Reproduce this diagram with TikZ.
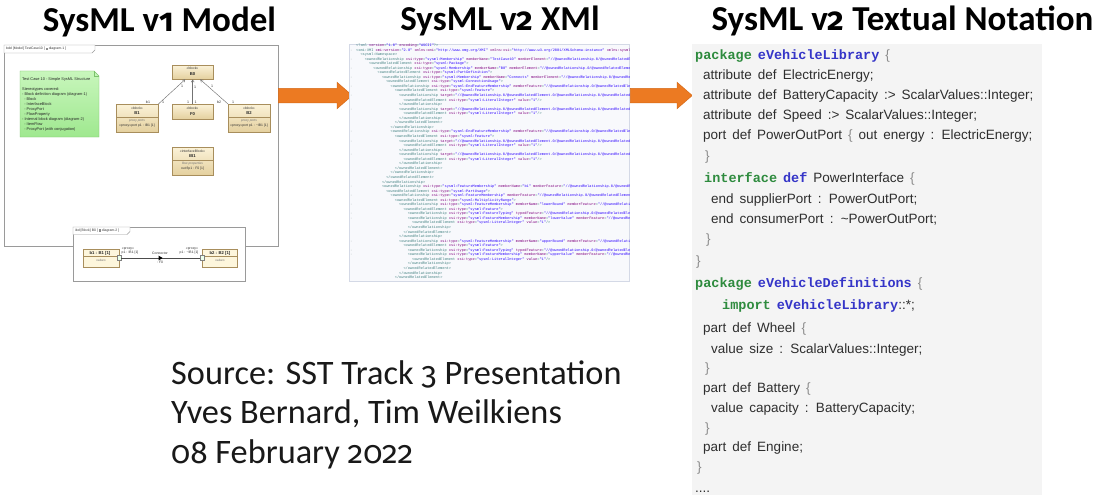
\documentclass[tikz,border=0pt]{standalone}
\usepackage{fontspec}
\setmainfont{Liberation Sans}
\newfontfamily\headfont{Carlito}
\newfontfamily\osfig[Numbers=OldStyle,Scale=0.92]{Fira Sans}
\newfontfamily\codefont[WordSpace=1.6]{Liberation Sans}
\newfontfamily\monofont{Liberation Mono}
\usetikzlibrary{shapes.arrows,shapes.geometric,shadows,arrows.meta}

\definecolor{flow}{HTML}{EC7A22}
\definecolor{flowedge}{HTML}{D66A18}
\definecolor{kwgreen}{HTML}{2E8B3E}
\definecolor{kwblue}{HTML}{3535C8}
\definecolor{codetext}{HTML}{2E2E2E}
\definecolor{codebrace}{HTML}{8C8C8C}
\definecolor{codebg}{HTML}{F4F4F4}
\definecolor{xmlbg}{HTML}{F8F9FC}
\definecolor{xmledge}{HTML}{D4D9E6}
\definecolor{xtag}{HTML}{3F7F7F}
\definecolor{xattr}{HTML}{7F007F}
\definecolor{xval}{HTML}{2A00FF}
\definecolor{xgutter}{HTML}{9AA4A4}
\definecolor{notetop}{HTML}{C8F6BC}
\definecolor{notebot}{HTML}{9FE88F}
\definecolor{noteedge}{HTML}{7CC26C}
\definecolor{blocktop}{HTML}{FBF2D8}
\definecolor{blockbot}{HTML}{E4D09E}
\definecolor{blockedge}{HTML}{A88E5C}
\definecolor{partfill}{HTML}{FDF6DC}
\definecolor{frameedge}{HTML}{9A9A9A}

% keyword, brace and XML helpers
\newcommand\kw[2]{{\monofont\bfseries\color{#1}#2}}
\newcommand\brc[1]{\textcolor{codebrace}{#1}}
\newcommand\icon{\textcolor{black!45}{\rule{2.2pt}{2.2pt}}}
\newcommand\xa[2]{\textcolor{xattr}{#1}=\textcolor{xval}{"#2"}}
\newcommand\xp{//@ownedRelationship.0/@ownedRelatedElement.0/@ownedRelationship.0/@ownedRelatedElement.0/@ownedRelationship.1/@ownedRelatedElement.0/@ownedRelationship.2}
\newcommand\xline[3]{\node[xmlline] (xl#1) at ({356+4.3*#2},{46.5+4.55*(#1-1)}) {#3};}
\newcommand\xmark[1]{\node[xmlmark] (xm#1) at (351.5,{46.5+4.55*(#1-1)}) {-};}

\begin{document}
\begin{tikzpicture}[x=1pt,y=-1pt,
  title/.style={anchor=base, inner sep=0, font=\headfont\bfseries\fontsize{35}{35}\selectfont},
  source/.style={anchor=base west, inner sep=0, text=black!90, font=\headfont\fontsize{34.3}{40}\selectfont},
  code/.style={anchor=base west, inner sep=0, text=codetext, font=\codefont\fontsize{13.5}{16}\selectfont},
  xmlline/.style={anchor=base west, inner sep=0, text=xtag, font=\monofont\fontsize{3.6}{4}\selectfont},
  xmlmark/.style={anchor=base, inner sep=0, text=xgutter, font=\monofont\fontsize{3.6}{4}\selectfont},
  bigarrow/.style={single arrow, fill=flow, draw=flowedge, line width=0.5pt, inner sep=0,
    single arrow head extend=6, single arrow tip angle=82, anchor=west},
  tiny/.style={inner sep=0, font=\fontsize{3.4}{4}\selectfont, text=black!80},
  tinybf/.style={inner sep=0, font=\bfseries\fontsize{4.2}{5}\selectfont, text=black!85},
  tinyit/.style={inner sep=0, font=\itshape\fontsize{3.2}{4}\selectfont, text=black!55},
  blk/.style={draw=blockedge, top color=blocktop, bottom color=blockbot, line width=0.4pt,
    inner sep=0, drop shadow={shadow xshift=0.8pt, shadow yshift=-0.8pt, opacity=0.25}},
  part/.style={draw=blockedge, fill=partfill, line width=0.4pt, inner sep=0,
    drop shadow={shadow xshift=0.8pt, shadow yshift=-0.8pt, opacity=0.2}},
  frame/.style={draw=frameedge, line width=0.4pt, inner sep=0},
  assoc/.style={draw=black!55, line width=0.45pt, -{Straight Barb[length=2.4pt,width=3pt]}},
  mult/.style={inner sep=0, font=\fontsize{3.6}{4}\selectfont, text=black!80}
]
\useasboundingbox[fill=white] (0,0) rectangle (1103,495);

% ---------- headings ----------
\node[title] (t1) at (159.5,32) {SysML v{\osfig 1} Model};
\node[title] (t2) at (500,31) {SysML v{\osfig 2} XMl};
\node[title] (t3) at (902.5,31) {SysML v{\osfig 2} Textual Notation};

% ---------- block definition diagram ----------
\node[frame, minimum width=274, minimum height=201, anchor=north west] (bddframe) at (4,45) {};
\draw[frame, fill=white] (4,45) -- (95,45) -- (95,50) -- (92,53) -- (4,53) -- cycle;
\node[tiny, anchor=west] (bddtab) at (6,49) {bdd [Model] TestCase10 [ \icon\ diagram-1 ]};

% comment note
\draw[draw=noteedge, top color=notetop, bottom color=notebot, line width=0.4pt]
  (20,71) -- (94,71) -- (99,76) -- (99,137) -- (20,137) -- cycle;
\draw[noteedge, line width=0.4pt] (94,71) -- (94,76) -- (99,76);
\node[anchor=north west, inner sep=0, align=left, text=black!85,
  font=\fontsize{3.9}{5}\selectfont] (notetxt) at (22,77.5)
  {Test Case 10 - Simple SysML Structure\\[5pt]
   Stereotypes covered:\\
   - Block definition diagram (diagram-1)\\
   \ \ - Block\\
   \ \ - InterfaceBlock\\
   \ \ - ProxyPort\\
   \ \ - FlowProperty\\
   - Internal block diagram (diagram-2)\\
   \ \ - ItemFlow\\
   \ \ - ProxyPort (with conjugation)};

% blocks
\node[blk, minimum width=41, minimum height=14, anchor=north west] (B0) at (172,65) {};
\node[tiny] (B0s) at (192.5,68.5) {«block»};
\node[tinybf] (B0n) at (192.5,74) {B0};

\node[blk, minimum width=42, minimum height=28, anchor=north west] (B1) at (116,104) {};
\node[tiny] (B1s) at (137,108) {«block»};
\node[tinybf] (B1n) at (137,113.5) {B1};
\draw[blockedge, line width=0.3pt] (B1.west |- 0,117.5) -- (B1.east |- 0,117.5);
\node[tinyit] (B1c) at (137,121) {proxy ports};
\node[tiny] (B1p) at (137,125.5) {«proxy»port p1 : IB1 [1]};

\node[blk, minimum width=41, minimum height=15, anchor=north west] (F0) at (172,104) {};
\node[tiny] (F0s) at (192.5,108) {«block»};
\node[tinybf] (F0n) at (192.5,114) {F0};

\node[blk, minimum width=42, minimum height=28, anchor=north west] (B2) at (228,104) {};
\node[tiny] (B2s) at (249,108) {«block»};
\node[tinybf] (B2n) at (249,113.5) {B2};
\draw[blockedge, line width=0.3pt] (B2.west |- 0,117.5) -- (B2.east |- 0,117.5);
\node[tinyit] (B2c) at (249,121) {proxy ports};
\node[tiny] (B2p) at (249,125.5) {«proxy»port p1 : \textasciitilde IB1 [1]};

\node[blk, minimum width=41, minimum height=28, anchor=north west] (IB) at (172,147) {};
\node[tiny] (IBs) at (192.5,151) {«interfaceBlock»};
\node[tinybf] (IBn) at (192.5,156.5) {IB1};
\draw[blockedge, line width=0.3pt] (IB.west |- 0,160.5) -- (IB.east |- 0,160.5);
\node[tinyit] (IBc) at (192.5,164) {flow properties};
\node[tiny] (IBp) at (192.5,168.5) {out flp1 : F0 [1]};

% part associations
\draw[assoc] (B1.north east) -- ([xshift=-7.5]B0.south);
\draw[assoc] (F0.north) -- (B0.south);
\draw[assoc] (B2.north west) -- ([xshift=7.5]B0.south);
\node[mult] (m1) at (148,102) {b1};
\node[mult] (m2) at (163,102) {1};
\node[mult] (m3) at (182,86) {1};
\node[mult] (m4) at (195,87) {1};
\node[mult] (m5) at (188,102) {1};
\node[mult] (m6) at (195.5,102) {1};
\node[mult] (m7) at (219,102) {b2};
\node[mult] (m8) at (233,102) {1};
\node[mult] (m9) at (212,86) {1};

% ---------- internal block diagram ----------
\node[frame, fill=white, minimum width=172, minimum height=54, anchor=north west] (ibdframe) at (73,227) {};
\draw[frame, fill=white] (73,227) -- (130,227) -- (130,231.5) -- (127,234.5) -- (73,234.5) -- cycle;
\node[tiny, anchor=west] (ibdtab) at (75,230.8) {ibd [Block] B0 [ \icon\ diagram-2 ]};

\node[part, minimum width=36, minimum height=18, anchor=north west] (b1p) at (83,249) {};
\node[tinybf] (b1n) at (100,253) {b1 : B1 [1]};
\draw[blockedge, line width=0.3pt] (b1p.west |- 0,256.5) -- (b1p.east |- 0,256.5);
\node[tinyit] (b1v) at (101,260) {values};
\node[part, minimum width=35, minimum height=18, anchor=north west] (b2p) at (202,249) {};
\node[tinybf] (b2n) at (220,253) {b2 : B2 [1]};
\draw[blockedge, line width=0.3pt] (b2p.west |- 0,256.5) -- (b2p.east |- 0,256.5);
\node[tinyit] (b2v) at (220,260) {values};

\node[draw=black!50, fill=green!8, line width=0.3pt, minimum width=4, minimum height=5, inner sep=0] (p1) at (119,258) {};
\node[draw=black!50, fill=green!8, line width=0.3pt, minimum width=4, minimum height=5, inner sep=0] (p2) at (202,258) {};
\draw[black!70, line width=0.45pt] (p1.east) -- (p2.west);
\node[isosceles triangle, fill=black, inner sep=0, minimum width=4, minimum height=4,
  isosceles triangle apex angle=60] (flowtip) at (160,258) {};
\node[tiny] (conn) at (160,253.5) {Connector};
\node[tiny] (connt) at (160,262.5) {: F0};
\node[tiny] (pl1a) at (128,248.5) {«proxy»};
\node[tiny] (pl1b) at (130,252.5) {p1 : IB1 [1]};
\node[tiny] (pl2a) at (192,248.5) {«proxy»};
\node[tiny] (pl2b) at (189,252.5) {p1 : \textasciitilde IB1 [1]};

% ---------- flow arrows ----------
\node[bigarrow, minimum height=74] (arrA) at (278,95.5) {\rule{0pt}{14pt}};
\node[bigarrow, minimum height=62] (arrB) at (630,95.5) {\rule{0pt}{14pt}};

% ---------- XML listing ----------
\node[draw=xmledge, fill=xmlbg, line width=0.4pt, inner sep=0, minimum width=280,
  minimum height=237, anchor=north west] (xmlpanel) at (349,44) {};
\begin{scope}
\clip (349,44) rectangle (629,281);
\xline{1}{0}{<?xml \xa{version}{1.0} \xa{encoding}{ASCII}?>}
\xline{2}{0}{<xmi:XMI \xa{xmi:version}{2.0} \xa{xmlns:xmi}{http://www.omg.org/XMI} \xa{xmlns:xsi}{http://www.w3.org/2001/XMLSchema-instance} \xa{xmlns:sysml}{http://www.omg.org/spec/SysML/2.0}>}
\xline{3}{1}{<sysml:Namespace>}
\xline{4}{2}{<ownedRelationship \xa{xsi:type}{sysml:Membership} \xa{memberName}{TestCase10} \xa{memberElement}{\xp}>}
\xline{5}{3}{<ownedRelatedElement \xa{xsi:type}{sysml:Package}>}
\xline{6}{4}{<ownedRelationship \xa{xsi:type}{sysml:Membership} \xa{memberName}{B0} \xa{memberElement}{\xp}>}
\xline{7}{5}{<ownedRelatedElement \xa{xsi:type}{sysml:PartDefinition}>}
\xline{8}{6}{<ownedRelationship \xa{xsi:type}{sysml:Membership} \xa{memberName}{Connects} \xa{memberElement}{\xp}>}
\xline{9}{7}{<ownedRelatedElement \xa{xsi:type}{sysml:ConnectionUsage}>}
\xline{10}{8}{<ownedRelationship \xa{xsi:type}{sysml:EndFeatureMembership} \xa{memberFeature}{\xp}>}
\xline{11}{9}{<ownedRelatedElement \xa{xsi:type}{sysml:Feature}>}
\xline{12}{10}{<ownedRelationship \xa{target}{\xp}>}
\xline{13}{11}{<ownedRelatedElement \xa{xsi:type}{sysml:LiteralInteger} \xa{value}{1}/>}
\xline{14}{10}{</ownedRelationship>}
\xline{15}{10}{<ownedRelationship \xa{target}{\xp}>}
\xline{16}{11}{<ownedRelatedElement \xa{xsi:type}{sysml:LiteralInteger} \xa{value}{1}/>}
\xline{17}{10}{</ownedRelationship>}
\xline{18}{9}{</ownedRelatedElement>}
\xline{19}{8}{</ownedRelationship>}
\xline{20}{8}{<ownedRelationship \xa{xsi:type}{sysml:EndFeatureMembership} \xa{memberFeature}{\xp}>}
\xline{21}{9}{<ownedRelatedElement \xa{xsi:type}{sysml:Feature}>}
\xline{22}{10}{<ownedRelationship \xa{target}{\xp}>}
\xline{23}{11}{<ownedRelatedElement \xa{xsi:type}{sysml:LiteralInteger} \xa{value}{1}/>}
\xline{24}{10}{</ownedRelationship>}
\xline{25}{10}{<ownedRelationship \xa{target}{\xp}>}
\xline{26}{11}{<ownedRelatedElement \xa{xsi:type}{sysml:LiteralInteger} \xa{value}{1}/>}
\xline{27}{10}{</ownedRelationship>}
\xline{28}{9}{</ownedRelatedElement>}
\xline{29}{8}{</ownedRelationship>}
\xline{30}{7}{</ownedRelatedElement>}
\xline{31}{6}{</ownedRelationship>}
\xline{32}{6}{<ownedRelationship \xa{xsi:type}{sysml:FeatureMembership} \xa{memberName}{b1} \xa{memberFeature}{\xp}>}
\xline{33}{7}{<ownedRelatedElement \xa{xsi:type}{sysml:PartUsage}>}
\xline{34}{8}{<ownedRelationship \xa{xsi:type}{sysml:FeatureMembership} \xa{memberFeature}{\xp}>}
\xline{35}{9}{<ownedRelatedElement \xa{xsi:type}{sysml:MultiplicityRange}>}
\xline{36}{10}{<ownedRelationship \xa{xsi:type}{sysml:FeatureMembership} \xa{memberName}{lowerBound} \xa{memberFeature}{\xp}>}
\xline{37}{11}{<ownedRelatedElement \xa{xsi:type}{sysml:Feature}>}
\xline{38}{12}{<ownedRelationship \xa{xsi:type}{sysml:FeatureTyping} \xa{typedFeature}{\xp}>}
\xline{39}{12}{<ownedRelationship \xa{xsi:type}{sysml:FeatureMembership} \xa{memberName}{lowerValue} \xa{memberFeature}{\xp}>}
\xline{40}{13}{<ownedRelatedElement \xa{xsi:type}{sysml:LiteralInteger} \xa{value}{1}/>}
\xline{41}{12}{</ownedRelationship>}
\xline{42}{11}{</ownedRelatedElement>}
\xline{43}{10}{</ownedRelationship>}
\xline{44}{10}{<ownedRelationship \xa{xsi:type}{sysml:FeatureMembership} \xa{memberName}{upperBound} \xa{memberFeature}{\xp}>}
\xline{45}{11}{<ownedRelatedElement \xa{xsi:type}{sysml:Feature}>}
\xline{46}{12}{<ownedRelationship \xa{xsi:type}{sysml:FeatureTyping} \xa{typedFeature}{\xp}>}
\xline{47}{12}{<ownedRelationship \xa{xsi:type}{sysml:FeatureMembership} \xa{memberName}{upperValue} \xa{memberFeature}{\xp}>}
\xline{48}{13}{<ownedRelatedElement \xa{xsi:type}{sysml:LiteralInteger} \xa{value}{1}/>}
\xline{49}{12}{</ownedRelationship>}
\xline{50}{11}{</ownedRelatedElement>}
\xline{51}{10}{</ownedRelationship>}
\xline{52}{9}{</ownedRelatedElement>}
\xmark{2}\xmark{4}\xmark{6}\xmark{8}\xmark{10}\xmark{12}\xmark{15}\xmark{20}
\xmark{22}\xmark{25}\xmark{32}\xmark{34}\xmark{36}\xmark{38}\xmark{39}\xmark{44}\xmark{46}\xmark{47}
\end{scope}

% ---------- textual notation ----------
\node[fill=codebg, inner sep=0, minimum width=350, minimum height=451, anchor=north west] (codepanel) at (692,44) {};
\node[code] (c1) at (695,59.3) {\kw{kwgreen}{package} \kw{kwblue}{eVehicleLibrary} \brc{\{}};
\node[code] (c2) at (703,79.3) {attribute def ElectricEnergy;};
\node[code] (c3) at (703,99.3) {attribute def BatteryCapacity :> ScalarValues::Integer;};
\node[code] (c4) at (703,119) {attribute def Speed :> ScalarValues::Integer;};
\node[code] (c5) at (703,139) {port def PowerOutPort \brc{\{} out energy : ElectricEnergy;};
\node[code] (c6) at (705,160) {\brc{\}}};
\node[code] (c7) at (704,182) {\kw{kwgreen}{interface} \kw{kwblue}{def} PowerInterface \brc{\{}};
\node[code] (c8) at (711,203) {end supplierPort : PowerOutPort;};
\node[code] (c9) at (711,223) {end consumerPort : \textasciitilde PowerOutPort;};
\node[code] (c10) at (706,243) {\brc{\}}};
\node[code] (c11) at (696,265) {\brc{\}}};
\node[code] (c12) at (695,287) {\kw{kwgreen}{package} \kw{kwblue}{eVehicleDefinitions} \brc{\{}};
\node[code] (c13) at (722,309) {\kw{kwgreen}{import} \kw{kwblue}{eVehicleLibrary}::*;};
\node[code] (c14) at (703,332) {part def Wheel \brc{\{}};
\node[code] (c15) at (711,353) {value size : ScalarValues::Integer;};
\node[code] (c16) at (705,372) {\brc{\}}};
\node[code] (c17) at (703,392) {part def Battery \brc{\{}};
\node[code] (c18) at (711,412) {value capacity : BatteryCapacity;};
\node[code] (c19) at (705,432) {\brc{\}}};
\node[code] (c20) at (703,451) {part def Engine;};
\node[code] (c21) at (697,471) {\brc{\}}};
\node[code] (c22) at (695,492) {....};

% ---------- source ----------
\node[source] (src1) at (171,384) {Source: SST Track {\osfig 3} Presentation};
\node[source] (src2) at (171,423) {Yves Bernard, Tim Weilkiens};
\node[source] (src3) at (171,463) {{\osfig 08} February {\osfig 2022}};
\end{tikzpicture}
\end{document}
